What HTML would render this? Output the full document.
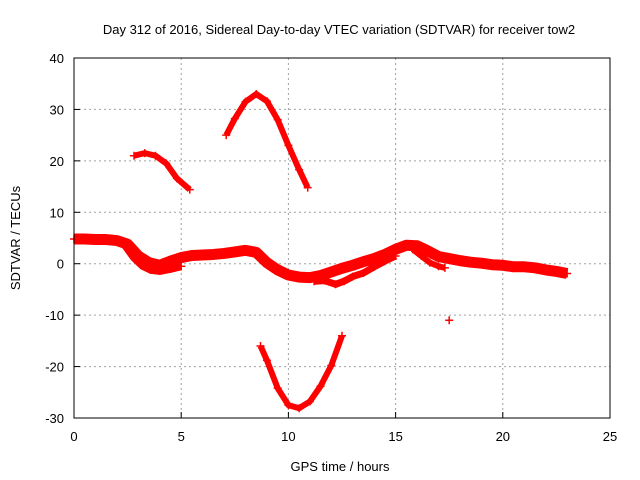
<!DOCTYPE html>
<html><head><meta charset="utf-8"><style>
body{margin:0;background:#fff}
svg{display:block;font-family:"Liberation Sans",sans-serif;font-size:13px}
</style></head><body>
<svg id="chart" width="640" height="480" viewBox="0 0 640 480">
<text x="339" y="34" text-anchor="middle">Day 312 of 2016, Sidereal Day-to-day VTEC variation (SDTVAR) for receiver tow2</text>
<text x="340" y="471" text-anchor="middle">GPS time / hours</text>
<text x="20" y="238" text-anchor="middle" transform="rotate(-90 20 238)">SDTVAR / TECUs</text>
<g id="grid"></g>
<g id="ticks"></g>
<g id="series"></g>
<rect x="74" y="58" width="536" height="360" fill="none" stroke="#000" stroke-width="1"/>
</svg>
<script>
const xTicks=[0,5,10,15,20,25];
const yTicks=[40,30,20,10,0,-10,-20,-30];
const mainT=[0,0.5,1,1.5,2,2.5,3,3.5,4,4.5,5,5.5,6,6.5,7,7.5,8,8.5,9,9.5,10,10.5,11,11.5,12,12.5,13,13.5,14,14.5,15,15.5,16,16.5,17,17.5,18,18.5,19,19.5,20,20.5,21,21.5,22,22.5,23];
const mainV=[4.8,4.8,4.7,4.7,4.5,3.8,1.5,0.2,-0.3,0.5,1.2,1.6,1.7,1.8,2,2.3,2.6,2.2,0.2,-1.2,-2.2,-2.6,-2.7,-2.3,-1.6,-0.9,-0.3,0.4,1,1.8,2.8,3.6,3.5,2.5,1.4,1,0.6,0.3,0.1,-0.2,-0.3,-0.6,-0.6,-0.8,-1.2,-1.5,-1.9];
const lowT=[2.4,2.8,3.2,3.6,4,4.5,5];
const lowV=[3.5,1.2,-0.4,-1.2,-1.4,-1,-0.5];
const low2T=[11.2,11.7,12.2,12.6,13,13.5,14,14.5,15];
const low2V=[-3.4,-3.3,-4,-3.4,-2.5,-1.8,-0.6,0.5,1.5];
const low3T=[15.8,16.2,16.6,17,17.3];
const low3V=[2.8,1.5,0.2,-0.5,-0.8];
const arc1T=[2.8,3.3,3.8,4.3,4.8,5.4];
const arc1V=[21,21.5,21,19.5,16.6,14.4];
const arc2T=[7.1,7.5,8,8.5,9,9.5,10,10.5,10.9];
const arc2V=[25,28.2,31.5,33,31.6,28,23,18.3,14.8];
const arc3T=[8.7,9,9.5,10,10.5,11,11.5,12,12.5];
const arc3V=[-16,-18.8,-24.2,-27.5,-28.1,-26.8,-23.8,-19.8,-14];
const outT=[17.5];
const outV=[-11];
const NS="http://www.w3.org/2000/svg";
function X(t){return 74+t*536/25;}
function Y(v){return 58+(40-v)*360/70;}
function mk(tag,a,parent){const e=document.createElementNS(NS,tag);for(const k in a)e.setAttribute(k,a[k]);parent.appendChild(e);return e;}
const grid=document.getElementById('grid'),ticks=document.getElementById('ticks'),series=document.getElementById('series');
xTicks.forEach(t=>{
 if(t>0&&t<25){const l=mk('line',{x1:X(t),x2:X(t),y1:58,y2:418,stroke:'#a0a0a0','stroke-dasharray':'2,3'},grid);
 }
 const tk=mk('line',{x1:X(t),x2:X(t),y1:418,y2:412,stroke:'#000'},ticks);
 
 const tx=mk('text',{x:X(t),y:441,'text-anchor':'middle'},ticks);tx.textContent=t;
 
});
yTicks.forEach(v=>{
 if(v<40&&v>-30){const l=mk('line',{x1:74,x2:610,y1:Y(v),y2:Y(v),stroke:'#a0a0a0','stroke-dasharray':'2,3'},grid);
 }
 const tk=mk('line',{x1:74,x2:80,y1:Y(v),y2:Y(v),stroke:'#000'},ticks);
 
 const tx=mk('text',{x:64,y:Y(v)+5,'text-anchor':'end'},ticks);tx.textContent=v;
 
});
function track(T,V,name,w){
 if(T.length>1){
  const p=mk('polyline',{points:T.map((t,i)=>X(t)+','+Y(V[i])).join(' '),fill:'none',stroke:'#f00','stroke-width':w,'stroke-linejoin':'round','stroke-linecap':'butt'},series);
  
 }
 T.forEach((t,i)=>{
  const x=X(t),y=Y(V[i]);
  const m=mk('path',{d:`M${x-4},${y}h8M${x},${y-4}v8`,stroke:'#f00','stroke-width':1.5},series);
  
 });
}
track(mainT,mainV,'main-track',11);
track(lowT,lowV,'lower-track',8);
track(low2T,low2V,'lower-track-2',7);
track(low3T,low3V,'lower-track-3',6);
track(arc1T,arc1V,'arc-1',6);
track(arc2T,arc2V,'arc-2',6);
track(arc3T,arc3V,'arc-3',6);
track(outT,outV,'outlier',6);
</script>
</body></html>
